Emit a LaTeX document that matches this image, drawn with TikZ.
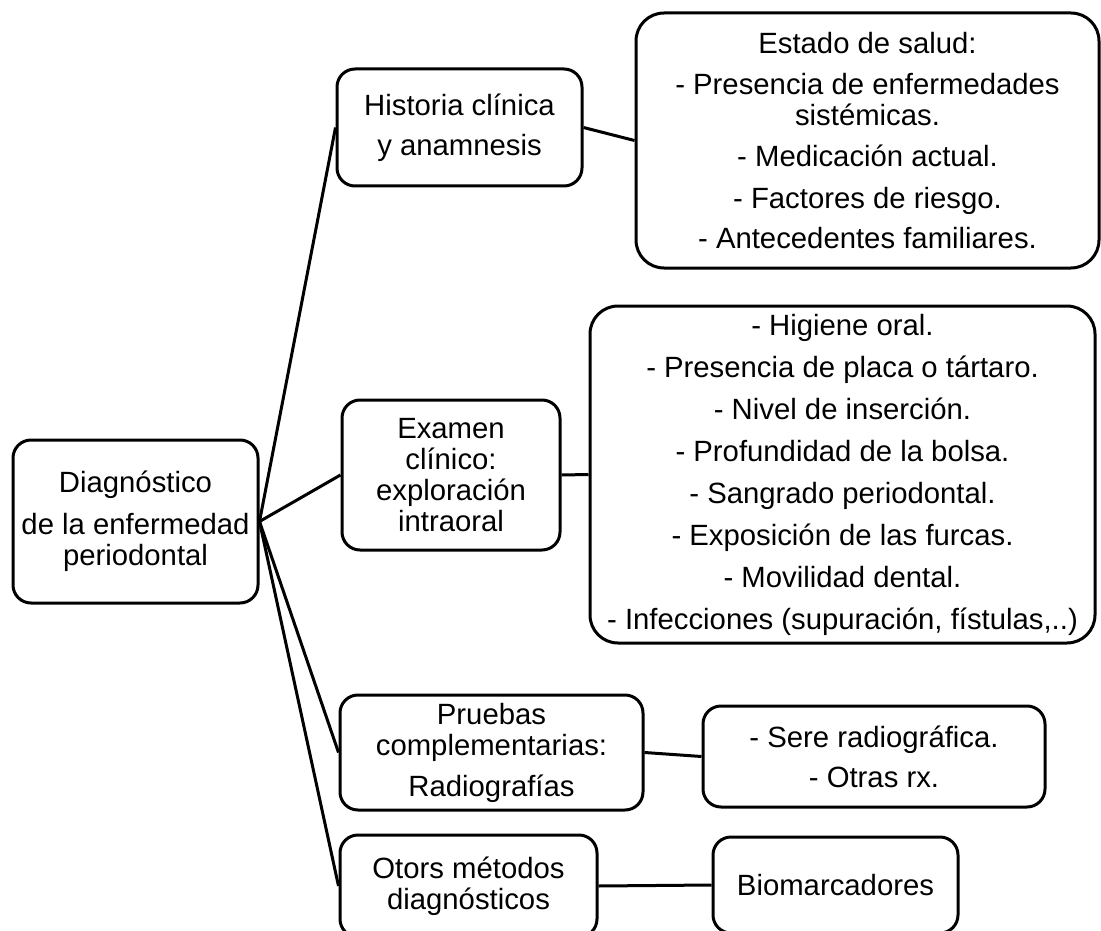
\documentclass[tikz,border=0pt]{standalone}
\usepackage{fontspec}
\setmainfont{Liberation Sans}
\begin{document}
\begin{tikzpicture}[x=1pt,y=-1pt,
  box/.style={draw=black, line width=3pt, rounded corners=18pt, inner sep=0pt,
    align=center, font=\fontsize{29.3}{31}\selectfont},
  conn/.style={draw=black, line width=3pt}]
\useasboundingbox (0,0) rectangle (1101,931);
\begin{scope}
\clip (0,0) rectangle (1101,931);
\node[box, minimum width=245pt, minimum height=163pt] (diag) at (135.5,521.5)
  {Diagnóstico\\[11pt]de la enfermedad\\periodontal};
\node[box, minimum width=245pt, minimum height=117pt] (hist) at (459.5,127.5)
  {Historia clínica\\[9pt]y anamnesis};
\node[box, rounded corners=28pt, minimum width=463pt, minimum height=255pt] (estado) at (867.5,140.5)
  {Estado de salud:\\[10pt]- Presencia de enfermedades\\sistémicas.\\[10pt]- Medicación actual.\\[11pt]- Factores de riesgo.\\[9pt]- Antecedentes familiares.};
\node[box, minimum width=218pt, minimum height=150pt] (exam) at (451,475)
  {Examen\\clínico:\\exploración\\intraoral};
\node[box, rounded corners=28pt, minimum width=505pt, minimum height=337pt] (big) at (842.5,474.5)
  {- Higiene oral.\\[11pt]- Presencia de placa o tártaro.\\[11pt]- Nivel de inserción.\\[11pt]- Profundidad de la bolsa.\\[11pt]- Sangrado periodontal.\\[11pt]- Exposición de las furcas.\\[11pt]- Movilidad dental.\\[11pt]- Infecciones (supuración, fístulas,..)};
\node[box, minimum width=303pt, minimum height=115pt] (prue) at (491.5,752.5)
  {Pruebas\\complementarias:\\[10pt]Radiografías};
\node[box, minimum width=342pt, minimum height=101pt] (sere) at (874,756.5)
  {- Sere radiográfica.\\[9pt]- Otras rx.};
\node[box, minimum width=257pt, minimum height=102pt] (otors) at (468.5,886)
  {Otors métodos\\diagnósticos};
\node[box, minimum width=245pt, minimum height=96pt] (bio) at (835.5,885)
  {Biomarcadores};
\draw[conn] (diag.east) -- (hist.west);
\draw[conn] (diag.east) -- (exam.west);
\draw[conn] (diag.east) -- (prue.west);
\draw[conn] (diag.east) -- (otors.west);
\draw[conn] (hist.east) -- (estado.west);
\draw[conn] (exam.east) -- (big.west);
\draw[conn] (prue.east) -- (sere.west);
\draw[conn] (otors.east) -- (bio.west);
\end{scope}
\end{tikzpicture}
\end{document}
